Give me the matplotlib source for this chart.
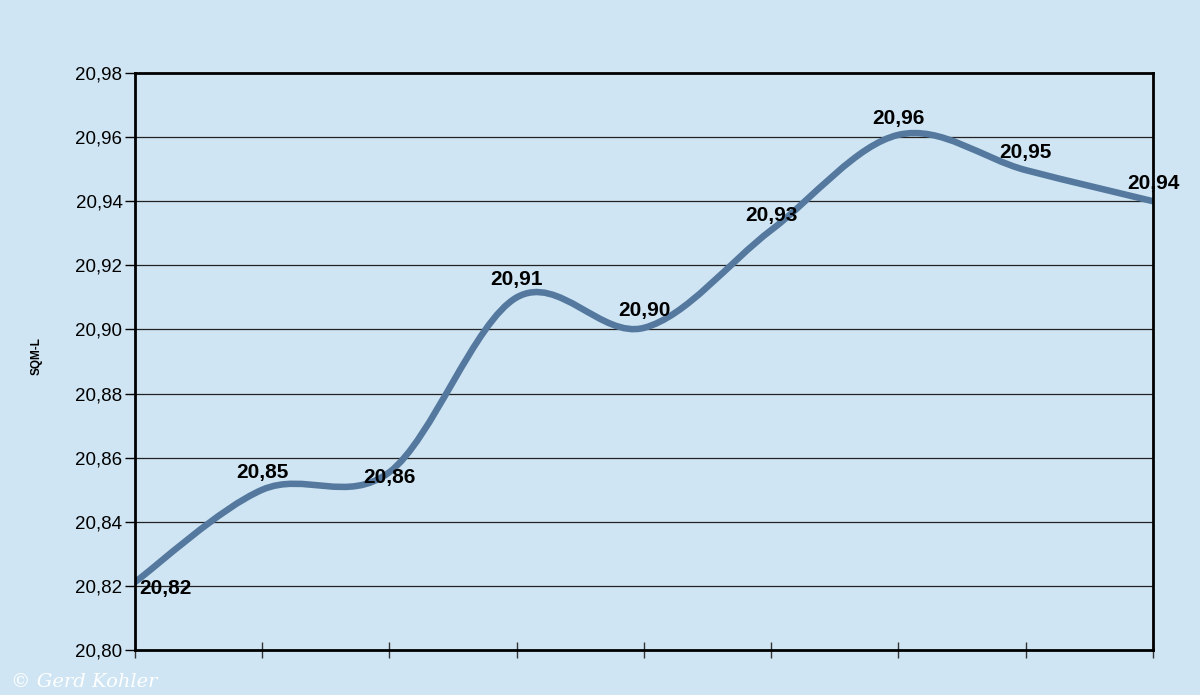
import matplotlib.pyplot as plt
from matplotlib.path import Path
from matplotlib.patches import PathPatch
from matplotlib.ticker import FuncFormatter

x_pos = [0, 1, 2, 3, 4, 5, 6, 7, 8]
sqm = [20.8212, 20.850, 20.8555, 20.910, 20.9005, 20.931, 20.9607, 20.9497, 20.940]
y_ticks = [20.80, 20.82, 20.84, 20.86, 20.88, 20.90, 20.92, 20.94, 20.96, 20.98]
# label offsets in pixels (dx, dy) and alignment per point
lbl_off = [(4, -6), (0, 17), (0, -5), (0, 18), (0, 17), (0, 15), (0, 16), (0, 18), (0, 18)]
lbl_ha = ['left', 'center', 'center', 'center', 'center', 'center', 'center', 'center', 'center']

BG = '#cfe5f3'
LINE = '#55799e'


def smooth_path(xs, ys):
    # Catmull-Rom style bezier like the spreadsheet "smoothed line"
    pts = list(zip(xs, ys))
    n = len(pts)
    verts = [pts[0]]
    codes = [Path.MOVETO]
    for i in range(n - 1):
        p0 = pts[max(i - 1, 0)]
        p1 = pts[i]
        p2 = pts[i + 1]
        p3 = pts[min(i + 2, n - 1)]
        c1 = (p1[0] + (p2[0] - p0[0]) / 6, p1[1] + (p2[1] - p0[1]) / 6)
        c2 = (p2[0] - (p3[0] - p1[0]) / 6, p2[1] - (p3[1] - p1[1]) / 6)
        verts += [c1, c2, p2]
        codes += [Path.CURVE4] * 3
    return Path(verts, codes)


fig = plt.figure(figsize=(12, 6.95), dpi=100, facecolor=BG)
ax = fig.add_axes([0.1125, 0.0647, 0.8483, 0.8303])
ax.set_facecolor(BG)

ax.set_xlim(x_pos[0], x_pos[-1])
ax.set_ylim(y_ticks[0], y_ticks[-1])

for yv in y_ticks[1:-1]:
    ax.axhline(yv, color='#222222', lw=0.9, zorder=1)

ax.add_patch(PathPatch(smooth_path(x_pos, sqm), fill=False, edgecolor=LINE,
                       lw=4.7, capstyle='round', joinstyle='round', zorder=2))

for i, (xv, yv) in enumerate(zip(x_pos, sqm)):
    ax.annotate(f'{yv:.2f}'.replace('.', ','), (xv, yv), xytext=lbl_off[i],
                textcoords='offset pixels', ha=lbl_ha[i], va='center',
                fontsize=15, fontweight='bold', color='black',
                family='Liberation Sans', annotation_clip=False, zorder=3)

ax.set_yticks(y_ticks)
ax.yaxis.set_major_formatter(FuncFormatter(lambda v, p: f'{v:.2f}'.replace('.', ',')))
ax.set_xticks(x_pos)
ax.set_xticklabels([])
ax.tick_params(axis='y', direction='out', length=7, width=1, labelsize=13.5,
               pad=2, colors='black')
ax.tick_params(axis='x', direction='inout', length=12, width=1, colors='#333333')
for lab in ax.get_yticklabels():
    lab.set_family('Liberation Sans')

for sp in ax.spines.values():
    sp.set_linewidth(2)
    sp.set_color('black')
    sp.set_zorder(4)

fig.text(36.5 / 1200, 1 - 356 / 695, 'SQM-L', rotation=90, fontsize=8.5,
         fontweight='bold', family='Liberation Sans', ha='center', va='center')

fig.text(0.009, 0.018, '\u00a9 Gerd Kohler', color='white', fontsize=14,
         style='italic', family='DejaVu Serif', ha='left', va='center')

fig.savefig('out.png', dpi=100, facecolor=BG)
